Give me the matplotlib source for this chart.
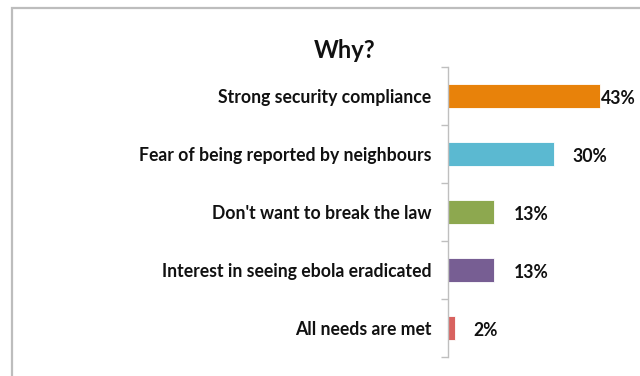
import matplotlib
matplotlib.use("Agg")
import matplotlib.pyplot as plt
from matplotlib.patches import Rectangle

categories = ["Strong security compliance", "Fear of being reported by neighbours",
              "Don't want to break the law", "Interest in seeing ebola eradicated",
              "All needs are met"]
values = [43, 30, 13, 13, 2]
labels = ["43%", "30%", "13%", "13%", "2%"]
colors = ["#E8820A", "#5BB9D1", "#8DA84F", "#775E93", "#D8625F"]

plt.rcParams['font.family'] = ['Lato', 'DejaVu Sans']

fig = plt.figure(figsize=(6.4, 3.76), dpi=100)
fig.patches.append(Rectangle((12/640, -0.1), 1.2, 1 - 8/376 + 0.1, transform=fig.transFigure,
                             fill=False, edgecolor="#BDBDBD", linewidth=1.6))

ax = fig.add_axes([448/640, 1 - 357/376, 176.5/640, 290/376])
ypos = list(range(len(categories)))
ax.barh(ypos, values, height=0.4, color=colors, edgecolor="white", linewidth=0.6)
ax.set_ylim(len(categories) - 0.5, -0.5)
ax.set_xlim(0, 50)
ax.set_yticks(ypos)
ax.set_yticklabels(categories, fontsize=12.7, fontweight="bold", color="#111111")
for t in ax.get_yticklabels():
    t.set_y(t.get_position()[1])
ax.set_yticks([i - 0.5 for i in range(len(categories) + 1)], minor=True)
ax.tick_params(axis="y", which="major", length=0, pad=12)
ax.tick_params(axis="y", which="minor", length=5, color="#BFBFBF", width=1)
ax.set_xticks([])
for s in ["top", "right", "bottom"]:
    ax.spines[s].set_visible(False)
ax.spines["left"].set_color("#BFBFBF")
ax.spines["left"].set_linewidth(1)

offsets = [0.3, 5.3, 5.5, 5.5, 5.2]
for i, (v, lab) in enumerate(zip(values, labels)):
    ax.text(v + offsets[i], i + 0.04, lab, va="center", ha="left", fontsize=12.7,
            fontweight="bold", color="#111111")

fig.text(345/640, 1 - 50/376, "Why?", ha="center", va="center", fontsize=17,
         fontweight="bold", color="#111111")

fig.savefig("out.png", dpi=100)
